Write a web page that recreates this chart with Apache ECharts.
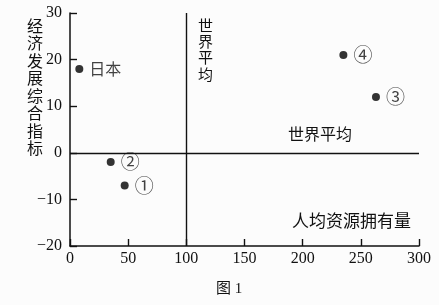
<!DOCTYPE html>
<html>
<head>
<meta charset="utf-8">
<script src="https://cdn.jsdelivr.net/npm/echarts@6/dist/echarts.min.js"></script>
<style>
  html, body { margin: 0; padding: 0; background: #fcfcfc; }
  #chart { width: 439px; height: 305px; }
</style>
</head>
<body>
<div id="chart"></div>
<script>
// points: [per-capita resources, economic development index, label]
const pointNames = ['日本', '②', '①', '④', '③'];
const resourceValues = [8, 35, 47, 235, 263];
const indexValues = [18, -2, -7, 21, 12];
const worldAvgX = 100;
const worldAvgY = 0;

const serif = '"Liberation Serif", "Noto Sans CJK SC", serif';
const cjk = '"Noto Sans CJK SC", sans-serif';
const ink = '#111';

const chart = echarts.init(document.getElementById('chart'));

const points = pointNames.map((n, i) => [resourceValues[i], indexValues[i], n]);

const option = {
    backgroundColor: '#fcfcfc',
    animation: false,
    grid: {
        left: 70,
        right: 20,
        top: 13,
        bottom: 59
    },
    xAxis: {
        type: 'value',
        min: 0,
        max: 300,
        interval: 50,
        axisLine: { onZero: false, lineStyle: { color: ink, width: 1.5 } },
        axisTick: { show: true, inside: true, length: 7, lineStyle: { color: ink, width: 1.4 } },
        axisLabel: { color: ink, fontFamily: serif, fontSize: 16, margin: 5 },
        splitLine: { show: false }
    },
    yAxis: {
        type: 'value',
        min: -20,
        max: 30,
        interval: 10,
        axisLine: { onZero: false, lineStyle: { color: ink, width: 1.5 } },
        axisTick: { show: true, inside: true, length: 7, lineStyle: { color: ink, width: 1.4 } },
        axisLabel: {
            color: ink, fontFamily: serif, fontSize: 16, margin: 8,
            formatter: v => (v < 0 ? '\u2212' + Math.abs(v) : '' + v)
        },
        splitLine: { show: false }
    },
    series: [{
        type: 'scatter',
        symbol: 'circle',
        symbolSize: 8,
        itemStyle: { color: '#000' },
        label: {
            show: true,
            position: 'right',
            distance: 6,
            formatter: p => (p.data[2].length > 1 ? '{t|' + p.data[2] + '}' : '{c|' + p.data[2] + '}'),
            rich: {
                t: { color: ink, fontFamily: cjk, fontSize: 16 },
                c: { color: ink, fontFamily: cjk, fontSize: 19 }
            }
        },
        data: points,
        markLine: {
            silent: true,
            symbol: 'none',
            label: { show: false },
            lineStyle: { color: ink, width: 1.4, type: 'solid' },
            data: [{ xAxis: worldAvgX }, { yAxis: worldAvgY }]
        }
    }],
    graphic: [{
        type: 'text',
        left: 27,
        top: 17,
        style: {
            text: '经\n济\n发\n展\n综\n合\n指\n标',
            font: '16px ' + cjk,
            lineHeight: 17.5,
            fill: ink
        }
    }, {
        type: 'text',
        left: 198,
        top: 17,
        style: {
            text: '世\n界\n平\n均',
            font: '15px ' + cjk,
            lineHeight: 16.3,
            fill: ink
        }
    }, {
        type: 'text',
        left: 288,
        top: 126,
        style: { text: '世界平均', font: '16px ' + cjk, fill: ink }
    }, {
        type: 'text',
        left: 292,
        top: 212,
        style: { text: '人均资源拥有量', font: '17px ' + cjk, fill: ink }
    }, {
        type: 'text',
        left: 216,
        top: 282,
        style: { text: '图 1', font: '15px ' + serif, fill: ink }
    }]
};

chart.setOption(option);
</script>
</body>
</html>
